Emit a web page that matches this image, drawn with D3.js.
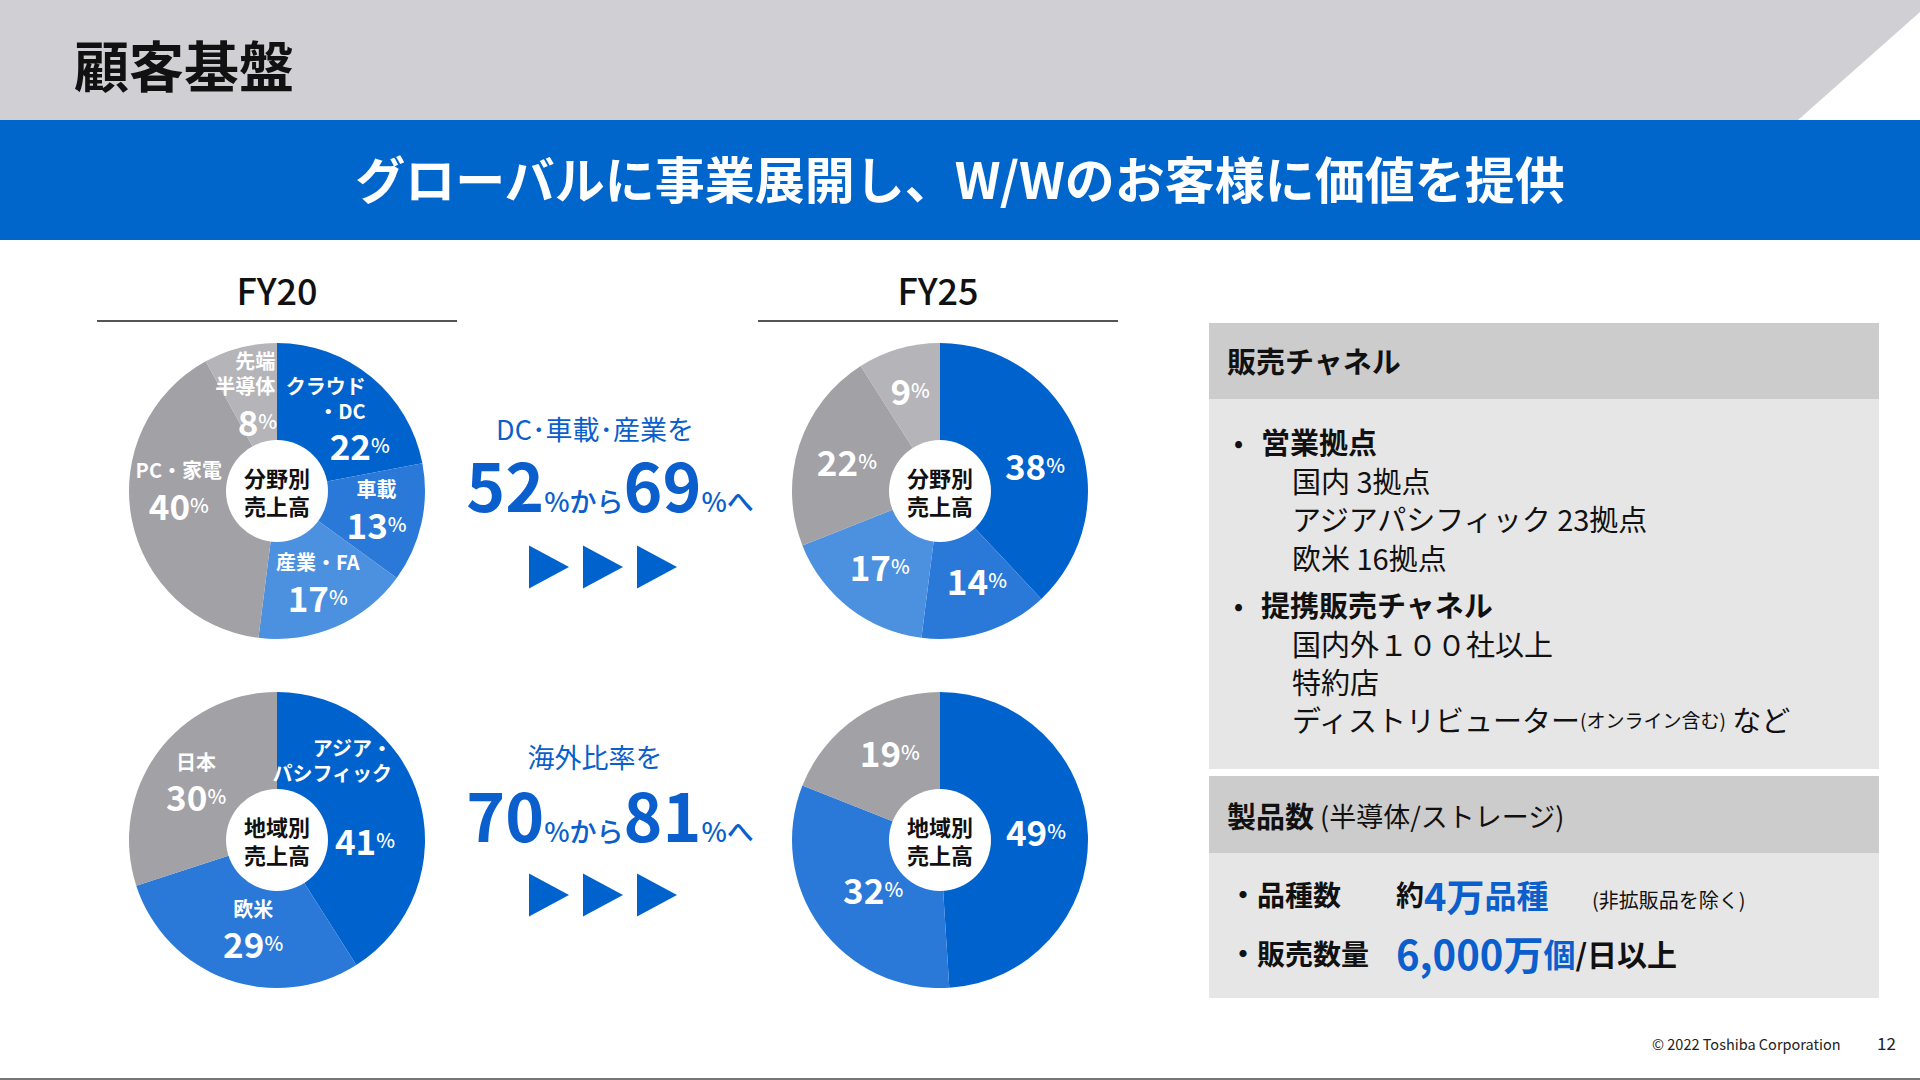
<!DOCTYPE html>
<html><head><meta charset="utf-8">
<script src="https://cdn.jsdelivr.net/npm/d3@7"></script>
<style>
html,body{margin:0;padding:0;background:#fff;}
svg text{font-family:"Noto Sans CJK JP","Noto Sans",sans-serif;}
</style></head>
<body><svg id="c" width="1920" height="1080"></svg>
<script>
// ---------------- data ----------------
const pageTitle = "顧客基盤";
const bandText = "グローバルに事業展開し、W/Wのお客様に価値を提供";
const yearLabels = ["FY20", "FY25"];
const segmentNames = [["クラウド", "・DC"], ["車載"], ["産業・FA"], ["PC・家電"], ["先端", "半導体"]];
const segmentFY20 = [22, 13, 17, 40, 8];
const segmentFY25 = [38, 14, 17, 22, 9];
const regionNames = [["アジア・", "パシフィック"], ["欧米"], ["日本"]];
const regionFY20 = [41, 29, 30];
const regionFY25 = [49, 32, 19];
const centerSegment = ["分野別", "売上高"];
const centerRegion = ["地域別", "売上高"];
const shiftSegment = {lead: "DC･車載･産業を", from: 52, to: 69};
const shiftRegion = {lead: "海外比率を", from: 70, to: 81};

// ---------------- styles / layout ----------------
const C = {dark: "#0062cc", mid: "#2a79d8", light: "#4c90e0", gray: "#a1a1a6", lgray: "#b4b4b9"};
const segmentColors = [C.dark, C.mid, C.light, C.gray, C.lgray];
const regionColors = [C.dark, C.mid, C.gray];
const textBlue = "#0a5fcc";

const svg = d3.select("#c");

// header
svg.append("rect").attr("x", 0).attr("y", 0).attr("width", 1920).attr("height", 120).attr("fill", "#d0d0d4");
svg.append("path").attr("d", "M1798,120 L1920,12 L1920,120 Z").attr("fill", "#fff");
svg.append("text").attr("x", 74).attr("y", 63).attr("dominant-baseline", "central")
  .attr("font-size", 55).attr("font-weight", 700).attr("fill", "#111").text(pageTitle);

svg.append("rect").attr("x", 0).attr("y", 120).attr("width", 1920).attr("height", 120).attr("fill", "#0066cc");
svg.append("text").attr("x", 960).attr("y", 177).attr("text-anchor", "middle").attr("dominant-baseline", "central")
  .attr("font-size", 50).attr("font-weight", 700).attr("fill", "#fff").text(bandText);

// year headers
const xYear = d3.scalePoint().domain(yearLabels).range([277, 938]);
yearLabels.forEach(y => {
  svg.append("text").attr("x", xYear(y)).attr("y", 289).attr("text-anchor", "middle").attr("dominant-baseline", "central")
    .attr("font-size", 36).attr("font-weight", 500).attr("fill", "#111").text(y);
  svg.append("line").attr("x1", xYear(y) - 180).attr("x2", xYear(y) + 180).attr("y1", 321).attr("y2", 321)
    .attr("stroke", "#555").attr("stroke-width", 2);
});

// pies
const R = 148, Rin = 51;
const pie = d3.pie().sort(null).value(d => d);
const arc = d3.arc().innerRadius(0).outerRadius(R);
const labelArc = d3.arc().innerRadius(100).outerRadius(100);

const charts = [
  {cx: 277, cy: 491, values: segmentFY20, names: segmentNames, colors: segmentColors, center: centerSegment,
   layout: [{dx: 25, dy: 1, anchor: "end", vdx: 24}, {dx: 2, dy: -7}, {dx: 1, dy: -4}, {dx: 0, dy: -23}, {dx: 23, dy: -4, anchor: "end", vdx: 2}]},
  {cx: 940, cy: 491, values: segmentFY25, names: null, colors: segmentColors, center: centerSegment,
   layout: [{dx: 2, dy: 10}, {dx: 6, dy: -7}, {dx: 1, dy: -5}, {dx: 2, dy: 0}, {dx: -2, dy: -6}]},
  {cx: 277, cy: 840, values: regionFY20, names: regionNames, colors: regionColors, center: centerRegion,
   layout: [{dx: 19, dy: -19, anchor: "end", vdx: 3, gap: 33}, {dx: 10, dy: -9}, {dx: 0, dy: -3}]},
  {cx: 940, cy: 840, values: regionFY25, names: null, colors: regionColors, center: centerRegion,
   layout: [{dx: -4, dy: -7}, {dx: 14, dy: -11}, {dx: 6, dy: -6}]}
];

charts.forEach(ch => {
  const g = svg.append("g").attr("transform", `translate(${ch.cx},${ch.cy})`);
  const arcs = pie(ch.values);
  g.selectAll("path").data(arcs).enter().append("path")
    .attr("d", arc).attr("fill", (d, i) => ch.colors[i]);
  g.append("circle").attr("r", Rin).attr("fill", "#fff");
  ch.center.forEach((t, j) => {
    g.append("text").attr("x", 0).attr("y", j === 0 ? -14 : 14).attr("text-anchor", "middle")
      .attr("dominant-baseline", "central").attr("font-size", 22).attr("font-weight", 700).attr("fill", "#111").text(t);
  });
  arcs.forEach((a, i) => {
    const [lx, ly] = labelArc.centroid(a);
    const L = ch.layout[i];
    const nm = ch.names ? ch.names[i] : [];
    const n = nm.length;
    const span = n ? (n - 1) * 25 + 34 + (L.gap || 0) : 0;
    const x = lx + L.dx, y0 = ly + L.dy - span / 2;
    const anchor = L.anchor || "middle";
    nm.forEach((t, j) => {
      g.append("text").attr("x", x).attr("y", y0 + j * 25).attr("text-anchor", anchor)
        .attr("dominant-baseline", "central").attr("font-size", 20).attr("font-weight", 700)
        .attr("fill", "#fff").text(t);
    });
    const vt = g.append("text").attr("x", x + (L.vdx || 0)).attr("y", y0 + span).attr("text-anchor", anchor)
      .attr("dominant-baseline", "central").attr("fill", "#fff").attr("font-weight", 700);
    vt.append("tspan").attr("font-size", 35).text(a.data);
    vt.append("tspan").attr("font-size", 20).attr("font-weight", 500).text("%");
  });
});

// middle shift texts + arrows
const shifts = [{s: shiftSegment, yLead: 428, yBig: 512, yArr: 567}, {s: shiftRegion, yLead: 756, yBig: 842, yArr: 895}];
const arrowIdx = [0, 1, 2];
const xArrow = d3.scaleLinear().domain([0, 2]).range([549, 657]);
shifts.forEach(o => {
  svg.append("text").attr("x", 595).attr("y", o.yLead).attr("text-anchor", "middle").attr("dominant-baseline", "central")
    .attr("font-size", 27).attr("fill", textBlue).text(o.s.lead);
  const t = svg.append("text").attr("x", 610).attr("y", o.yBig).attr("text-anchor", "middle")
    .attr("fill", textBlue).attr("font-weight", 700);
  t.append("tspan").attr("font-size", 66).text(o.s.from);
  t.append("tspan").attr("font-size", 27).attr("font-weight", 500).text("%から");
  t.append("tspan").attr("font-size", 66).text(o.s.to);
  t.append("tspan").attr("font-size", 27).attr("font-weight", 500).text("%へ");
  svg.selectAll(null).data(arrowIdx).enter().append("path")
    .attr("d", d => `M${xArrow(d) - 20},${o.yArr - 21.5} L${xArrow(d) + 20},${o.yArr} L${xArrow(d) - 20},${o.yArr + 21.5} Z`)
    .attr("fill", "#0062cc");
});

// right panel: sales channel
const panelX = 1209, panelW = 670;
svg.append("rect").attr("x", panelX).attr("y", 323).attr("width", panelW).attr("height", 76).attr("fill", "#cccccc");
svg.append("rect").attr("x", panelX).attr("y", 399).attr("width", panelW).attr("height", 370).attr("fill", "#e6e6e6");
svg.append("rect").attr("x", panelX).attr("y", 776).attr("width", panelW).attr("height", 77).attr("fill", "#cccccc");
svg.append("rect").attr("x", panelX).attr("y", 853).attr("width", panelW).attr("height", 145).attr("fill", "#e6e6e6");

function txt(x, y, s, size, weight, fill) {
  return svg.append("text").attr("x", x).attr("y", y).attr("dominant-baseline", "central")
    .attr("font-size", size).attr("font-weight", weight || 400).attr("fill", fill || "#111").text(s);
}
txt(1227, 360, "販売チャネル", 29, 700);
const channelGroups = [
  {head: "営業拠点", items: ["国内 3拠点", "アジアパシフィック 23拠点", "欧米 16拠点"], y: 441},
  {head: "提携販売チャネル", items: ["国内外１００社以上", "特約店"], y: 604}
];
channelGroups.forEach(gp => {
  txt(1234, gp.y, "•", 24, 700);
  txt(1261, gp.y, gp.head, 29, 700);
  gp.items.forEach((it, j) => txt(1292, gp.y + 38.5 * (j + 1), it, 29, 400));
});
const dist = txt(1292, 719, "ディストリビューター", 29, 400);
dist.append("tspan").attr("font-size", 19).text("(オンライン含む)");
dist.append("tspan").attr("font-size", 29).text(" など");

const h2 = txt(1227, 815, "製品数", 29, 700);
h2.append("tspan").attr("font-size", 27).attr("font-weight", 400).text(" (半導体/ストレージ)");

txt(1229, 894, "・品種数", 28, 700);
const k = txt(1396, 894, "約", 28, 700);
k.append("tspan").attr("font-size", 38).attr("fill", textBlue).text("4万");
k.append("tspan").attr("font-size", 32).attr("fill", textBlue).text("品種");
txt(1592, 899, "(非拡販品を除く)", 20, 400);

txt(1229, 953, "・販売数量", 28, 700);
const q = txt(1396, 953, "", 28, 700);
q.append("tspan").attr("font-size", 40).attr("fill", textBlue).text("6,000万");
q.append("tspan").attr("font-size", 32).attr("fill", textBlue).text("個");
q.append("tspan").attr("font-size", 30).attr("fill", "#111").text("/日以上");

// footer
txt(1652, 1043, "© 2022 Toshiba Corporation", 14.5, 400, "#222");
txt(1877, 1042, "12", 17, 400, "#222");
svg.append("line").attr("x1", 0).attr("x2", 1920).attr("y1", 1079).attr("y2", 1079).attr("stroke", "#777").attr("stroke-width", 2);
</script></body></html>
